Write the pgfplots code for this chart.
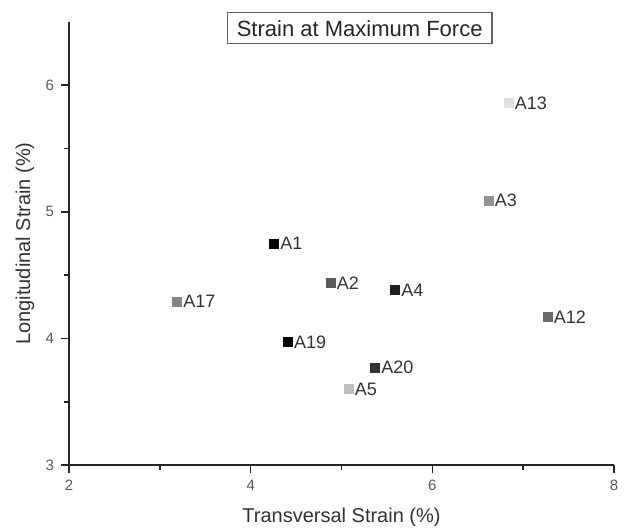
\documentclass[border=0pt]{standalone}
\usepackage{pgfplots}
\pgfplotsset{compat=1.18}
\usepackage{fontspec}
\setmainfont{Liberation Sans}

\pgfplotsset{
  pt/.style={only marks, mark=square*, mark size=2.25pt,
    mark options={draw=#1, fill=#1}, color=#1,
    nodes near coords align={right},
    every node near coord/.append style={anchor=west, xshift=2.4pt, yshift=0pt, inner sep=0.5pt,
      font=\fontsize{9}{10}\selectfont, text=black!80}},
}

\begin{document}
\begin{tikzpicture}
\begin{axis}[
  name=ax,
  scale only axis,
  width=272.5pt, height=221.5pt,
  xmin=2, xmax=8, ymin=3, ymax=6.5,
  axis lines=left,
  axis line style={-, line width=0.8pt, black!85},
  xtick={2,4,6,8}, ytick={3,4,5,6},
  minor x tick num=1, minor y tick num=1,
  tick align=outside,
  major tick length=4pt, minor tick length=2.5pt,
  tick style={line width=0.8pt, black!85},
  /pgf/number format/assume math mode=true,
  ticklabel style={font=\fontsize{7.5}{8}\selectfont, text=black!65},
  xlabel={Transversal Strain (\%)},
  ylabel={Longitudinal Strain (\%)},
  label style={font=\fontsize{10}{12}\selectfont, text=black!80},
  xlabel style={at={(axis description cs:0.5,-0.1174)}, anchor=center},
  ylabel style={at={(axis description cs:-0.081,0.5)}, anchor=center},
  clip=false,
]
\addplot[pt=black!98, nodes near coords={A1}]  coordinates {(4.26,4.75)};
\addplot[pt=black!65, nodes near coords={A2}]  coordinates {(4.88,4.44)};
\addplot[pt=black!42, nodes near coords={A3}]  coordinates {(6.62,5.09)};
\addplot[pt=black!88, nodes near coords={A4}]  coordinates {(5.59,4.38)};
\addplot[pt=black!25, nodes near coords={A5}]  coordinates {(5.08,3.60)};
\addplot[pt=black!58, nodes near coords={A12}] coordinates {(7.27,4.17)};
\addplot[pt=black!12, nodes near coords={A13}] coordinates {(6.84,5.86)};
\addplot[pt=black!48, nodes near coords={A17}] coordinates {(3.19,4.29)};
\addplot[pt=black!98, nodes near coords={A19}] coordinates {(4.41,3.97)};
\addplot[pt=black!80, nodes near coords={A20}] coordinates {(5.37,3.77)};
\node[draw=black!60, line width=0.6pt, fill=white, inner xsep=4.75pt,
      minimum height=15.5pt, font=\fontsize{11}{13}\selectfont, text=black!85]
  at (axis cs:5.2,6.45) {Strain at Maximum Force};
\end{axis}
\pgfresetboundingbox
\path ([shift={(-34.5pt,-31.5pt)}]ax.south west) rectangle ([shift={(7.5pt,11pt)}]ax.north east);
\end{tikzpicture}
\end{document}
